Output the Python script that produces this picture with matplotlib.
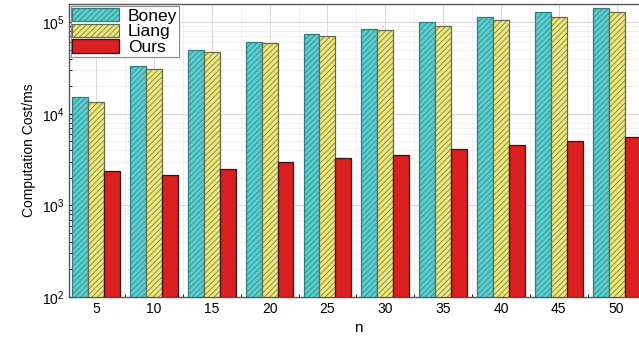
import matplotlib
matplotlib.use('Agg')
import matplotlib.pyplot as plt
import numpy as np
from matplotlib.ticker import LogLocator, FixedLocator, NullFormatter

plt.rcParams['font.family'] = ['Liberation Sans', 'DejaVu Sans']
plt.rcParams['hatch.linewidth'] = 0.5

n_values = [5, 10, 15, 20, 25, 30, 35, 40, 45, 50]
boney = [15300, 33300, 49600, 60600, 74000, 84000, 100000, 114000, 130000, 144000]
liang = [13200, 30800, 47200, 59000, 70500, 82000, 91000, 104000, 114000, 130000]
ours = [2290, 2070, 2400, 2860, 3160, 3490, 4060, 4480, 4960, 5520]

x = np.array(n_values, dtype=float)
width = 1.37

fig = plt.figure(figsize=(6.39, 3.43), dpi=100)
ax = fig.add_axes([0.108, 0.134, 0.904, 0.854])

ax.bar(x - width, boney, width, bottom=100, color='#5ccccc', edgecolor='#2a8083',
       hatch='//////', linewidth=0.9, label='Boney', zorder=3)
ax.bar(x, liang, width, bottom=100, color='#ece87a', edgecolor='#6a6a48',
       hatch='//////', linewidth=0.9, label='Liang', zorder=3)
ax.bar(x + width, ours, width, bottom=100, color='#d91f1f', edgecolor='#3a1010',
       linewidth=0.9, label='Ours', zorder=3)

ax.set_yscale('log')
ax.set_ylim(100, 157000)
ax.set_xlim(2.66, 52.6)

ax.set_xticks(n_values)
ax.set_xticklabels([str(v) for v in n_values], fontsize=10)
ax.xaxis.set_minor_locator(FixedLocator([v + 2.5 for v in n_values[:-1]]))
ax.yaxis.set_major_locator(LogLocator(base=10))
ax.yaxis.set_minor_locator(LogLocator(base=10, subs=np.arange(2, 10)))
ax.yaxis.set_minor_formatter(NullFormatter())
ax.tick_params(axis='both', which='both', direction='in', top=False, right=False)
ax.tick_params(axis='y', labelsize=10)
ax.tick_params(which='major', length=4)
ax.tick_params(which='minor', length=2)

ax.grid(True, which='major', color='#d8d8d8', linewidth=0.7, zorder=0)
ax.grid(True, which='minor', color='#ececec', linewidth=0.5, zorder=0)

for side in ['top', 'left', 'bottom']:
    ax.spines[side].set_color('#555555')
    ax.spines[side].set_linewidth(1.0)
ax.spines['right'].set_visible(False)

ax.set_xlabel('n', fontsize=11)
ax.set_ylabel('Computation Cost/ms', fontsize=10)

leg = ax.legend(loc='upper left', fontsize=12.5, handlelength=2.7, handleheight=0.85,
                borderaxespad=0.1, labelspacing=0.0, fancybox=False, framealpha=1,
                edgecolor='#888888', borderpad=0.1, handletextpad=0.5)
leg.get_frame().set_linewidth(0.8)

fig.savefig('out.png', dpi=100)
